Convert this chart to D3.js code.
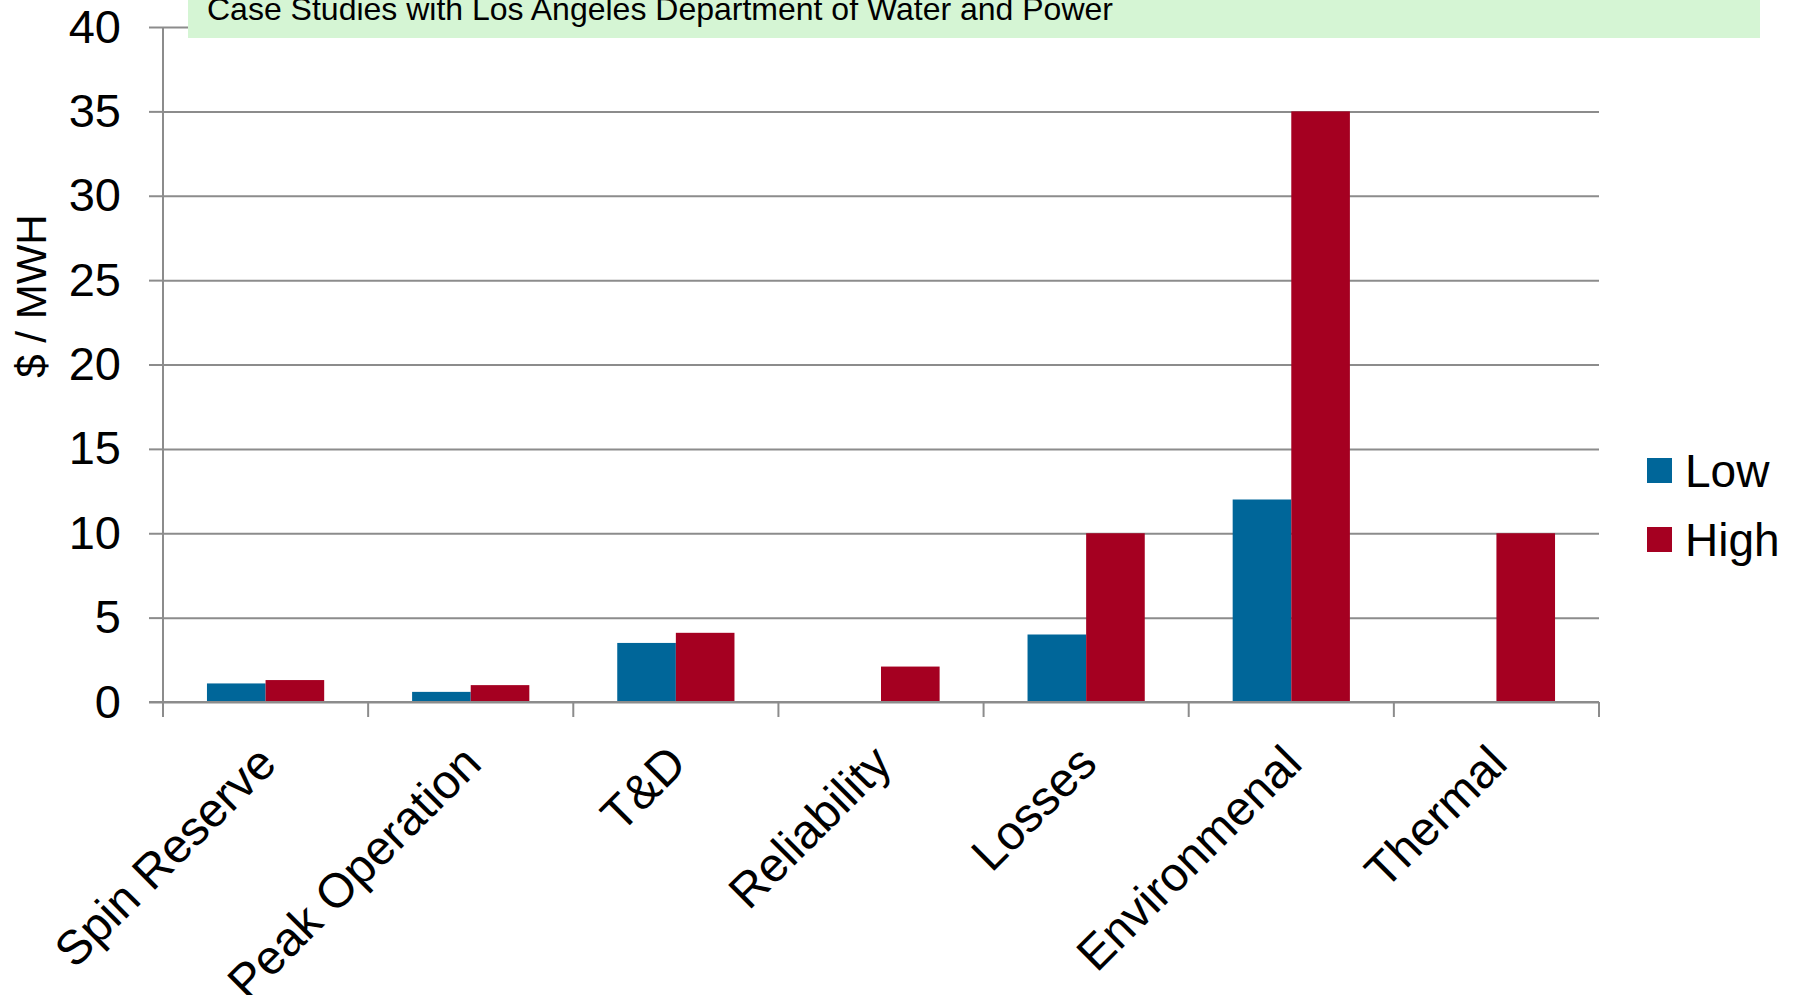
<!DOCTYPE html>
<html>
<head>
<meta charset="utf-8">
<script src="https://cdn.jsdelivr.net/npm/d3@7"></script>
<style>
  body { margin: 0; background: #fff; }
  text { font-family: "Liberation Sans", Arial, sans-serif; }
</style>
</head>
<body>
<script>
const categories = ["Spin Reserve", "Peak Operation", "T&D", "Reliability", "Losses", "Environmenal", "Thermal"];
const seriesNames = ["Low", "High"];
const lowValues = [1.1, 0.6, 3.5, null, 4, 12, null];
const highValues = [1.3, 1.0, 4.1, 2.1, 10, 35, 10];
const yTicks = [0, 5, 10, 15, 20, 25, 30, 35, 40];
const colors = ["#006699", "#a50021"];
const titleText = "Case Studies with Los Angeles Department of Water and Power";

const plotLeft = 163;
const plotRight = 1599;
const plotTop = 27;
const plotBottom = 702;

const svg = d3.select("body")
    .append("svg")
    .attr("width", 1797)
    .attr("height", 995);

const x0 = d3.scaleBand()
    .domain(categories)
    .range([plotLeft, plotRight])
    .padding(0);

const x1 = d3.scaleBand()
    .domain(seriesNames)
    .range([0, x0.bandwidth()])
    .paddingInner(0)
    .paddingOuter(0.75);

const y = d3.scaleLinear()
    .domain([0, 40])
    .range([plotBottom, plotTop]);

const color = d3.scaleOrdinal().domain(seriesNames).range(colors);

// gridlines
svg.append("g")
    .attr("transform", `translate(${plotLeft},0)`)
    .call(d3.axisLeft(y).tickValues(yTicks).tickSize(-(plotRight - plotLeft)).tickFormat(""))
    .call(g => g.select(".domain").remove())
    .call(g => g.selectAll("line").attr("stroke", "#8c8c8c").attr("stroke-width", 2));

// title box (sits over the 40 gridline, text clipped at top like the original)
svg.append("rect")
    .attr("x", 188)
    .attr("y", 0)
    .attr("width", 1760 - 188)
    .attr("height", 38)
    .attr("fill", "#d5f5d4");

svg.append("text")
    .attr("x", 207)
    .attr("y", 19.5)
    .style("font-size", "32px")
    .style("fill", "#000")
    .text(titleText);

// bars
const rows = categories.map((c, i) => ({ cat: c, values: [lowValues[i], highValues[i]] }));

svg.append("g")
    .selectAll("g")
    .data(rows)
    .join("g")
    .attr("transform", d => `translate(${x0(d.cat)},0)`)
    .selectAll("rect")
    .data(d => seriesNames.map((s, j) => ({ key: s, value: d.values[j] })).filter(d => d.value != null))
    .join("rect")
    .attr("x", d => x1(d.key))
    .attr("y", d => y(d.value))
    .attr("width", x1.bandwidth())
    .attr("height", d => y(0) - y(d.value))
    .attr("fill", d => color(d.key));

// y axis
svg.append("g")
    .attr("transform", `translate(${plotLeft},0)`)
    .call(d3.axisLeft(y).tickValues(yTicks).tickSize(14).tickPadding(28))
    .call(g => g.select(".domain").attr("stroke", "#8c8c8c").attr("stroke-width", 2).attr("d", `M0,${plotTop}V${plotBottom + 15}`))
    .call(g => g.selectAll("line").attr("stroke", "#8c8c8c").attr("stroke-width", 2))
    .call(g => g.selectAll("text").style("font-size", "47px").style("fill", "#000").attr("font-family", null));

// x axis
const xAxis = svg.append("g")
    .attr("transform", `translate(0,${plotBottom})`);

xAxis.append("line")
    .attr("x1", plotLeft - 14)
    .attr("x2", plotRight)
    .attr("stroke", "#8c8c8c")
    .attr("stroke-width", 2);

xAxis.selectAll(".xtick")
    .data(categories.map(c => x0(c)).concat([plotRight]))
    .join("line")
    .attr("class", "xtick")
    .attr("x1", d => d)
    .attr("x2", d => d)
    .attr("y1", 0)
    .attr("y2", 15)
    .attr("stroke", "#8c8c8c")
    .attr("stroke-width", 2);

xAxis.selectAll(".xlabel")
    .data(categories)
    .join("text")
    .attr("class", "xlabel")
    .attr("text-anchor", "end")
    .attr("transform", d => `translate(${x0(d) + x0.bandwidth() / 2 + 13},64) rotate(-45)`)
    .style("font-size", "48px")
    .style("fill", "#000")
    .text(d => d);

// y axis title
svg.append("text")
    .attr("transform", "translate(46,296) rotate(-90)")
    .attr("text-anchor", "middle")
    .style("font-size", "42px")
    .style("fill", "#000")
    .text("$ / MWH");

// legend
const legend = svg.append("g")
    .selectAll("g")
    .data(seriesNames)
    .join("g")
    .attr("transform", (d, i) => `translate(1647,${458 + i * 69})`);

legend.append("rect")
    .attr("width", 25)
    .attr("height", 25)
    .attr("fill", d => color(d));

legend.append("text")
    .attr("x", 38)
    .attr("y", 29)
    .style("font-size", "46px")
    .style("fill", "#000")
    .text(d => d);
</script>
</body>
</html>
